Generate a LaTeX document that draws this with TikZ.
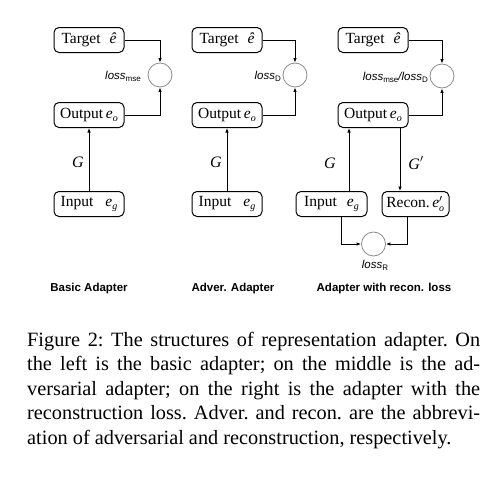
\documentclass[tikz,border=0pt]{standalone}
\usepackage{fontspec}
\setmainfont{Liberation Serif}
\setsansfont{Liberation Sans}
\usetikzlibrary{arrows.meta}
\newcommand\losssub[1]{\raisebox{-0.35ex}{\fontsize{8}{9}\selectfont\upshape #1}}
\newcommand\vsub[1]{\raisebox{-0.45ex}{\fontsize{10}{10}\selectfont\itshape #1}}
\begin{document}
\begin{tikzpicture}[x=1pt,y=-1pt,
  box/.style={draw, line width=1pt, rounded corners=5pt, minimum width=70pt, minimum height=25pt, inner sep=1pt, font=\fontsize{15.5}{18}\selectfont},
  lossc/.style={draw=black!45, line width=0.8pt, circle, minimum size=24pt, inner sep=0pt},
  conn/.style={line width=0.9pt, -{Latex[length=4.5pt,width=3.5pt]}},
  lbl/.style={font=\fontsize{11.5}{13}\selectfont\sffamily\itshape, inner sep=0pt},
  ttl/.style={font=\fontsize{11.5}{13}\selectfont\sffamily\bfseries, inner sep=0pt},
  glab/.style={font=\fontsize{16}{18}\selectfont\itshape, inner sep=0pt},
  capline/.style={anchor=base west, inner sep=0pt, font=\fontsize{20.3}{24}\selectfont\frenchspacing}]
\useasboundingbox (0,0) rectangle (499,479);
\fill[white] (0,0) rectangle (499,479);

% ---- Basic adapter
\node[box] (t1) at (89,40) {Target\hspace{9pt}\textit{ê}};
\node[box] (o1) at (89,115) {Output\,\textit{e}\vsub{o}};
\node[box] (i1) at (89,204) {Input\hspace{12pt}\textit{e}\vsub{g}};
\node[lossc] (c1) at (160,75) {};
\node[lbl, anchor=east] (l1) at (141,76) {loss\losssub{mse}};
\draw[conn] (t1.east) -| (c1.north);
\draw[conn] (o1.east) -| (c1.south);
\draw[conn] (i1.north) -- (o1.south);
\node[glab] (g1) at (78,162) {G};
\node[ttl] (T1) at (89,289) {Basic Adapter};

% ---- Adversarial adapter
\node[box] (t2) at (227,40) {Target\hspace{9pt}\textit{ê}};
\node[box] (o2) at (227,115) {Output\,\textit{e}\vsub{o}};
\node[box] (i2) at (227,204) {Input\hspace{12pt}\textit{e}\vsub{g}};
\node[lossc] (c2) at (295,75) {};
\node[lbl, anchor=east] (l2) at (281,76) {loss\losssub{D}};
\draw[conn] (t2.east) -| (c2.north);
\draw[conn] (o2.east) -| (c2.south);
\draw[conn] (i2.north) -- (o2.south);
\node[glab] (g2) at (216,162) {G};
\node[ttl] (T2) at (233,289) {Adver. Adapter};

% ---- Adapter with reconstruction loss
\node[box] (t3) at (373,40) {Target\hspace{9pt}\textit{ê}};
\node[box] (o3) at (373,115) {Output\,\textit{e}\vsub{o}};
\node[box, minimum width=71pt] (i3) at (331.5,204) {Input\hspace{10pt}\textit{e}\vsub{g}};
\node[box, minimum width=67pt] (r3) at (415.5,204) {Recon.\,\textit{e}$'_{\mbox{\fontsize{10}{10}\selectfont\itshape o}}$};
\node[lossc] (c3) at (442,76) {};
\node[lbl, anchor=east] (l3) at (428,77) {loss\losssub{mse}/loss\losssub{D}};
\draw[conn] (t3.east) -| (c3.north);
\draw[conn] (o3.east) -| (c3.south);
\coordinate (a3) at (349,0);
\coordinate (b3) at (400,0);
\draw[conn] (i3.north -| a3) -- (o3.south -| a3);
\draw[conn] (o3.south -| b3) -- (r3.north -| b3);
\node[glab] (g3) at (330,163) {G};
\node[glab] (g3p) at (416,163) {G$'$};
\node[lossc] (c4) at (373.5,244) {};
\coordinate (d3) at (341,0);
\coordinate (e3) at (407,0);
\draw[conn] (i3.south -| d3) |- (c4.west);
\draw[conn] (r3.south -| e3) |- (c4.east);
\node[lbl, anchor=north] (l4) at (375,260) {loss\losssub{R}};
\node[ttl] (T3) at (384,289) {Adapter with recon. loss};

% ---- Caption
\node[capline] (cap1) at (27,346) {\makebox[453pt][s]{Figure 2: The structures of representation adapter. On}};
\node[capline] (cap2) at (27,370.5) {\makebox[453pt][s]{the left is the basic adapter; on the middle is the ad-}};
\node[capline] (cap3) at (27,395) {\makebox[453pt][s]{versarial adapter; on the right is the adapter with the}};
\node[capline] (cap4) at (27,419.5) {\makebox[453pt][s]{reconstruction loss. Adver. and recon. are the abbrevi-}};
\node[capline] (cap5) at (27,444) {ation of adversarial and reconstruction, respectively.};
\end{tikzpicture}
\end{document}
